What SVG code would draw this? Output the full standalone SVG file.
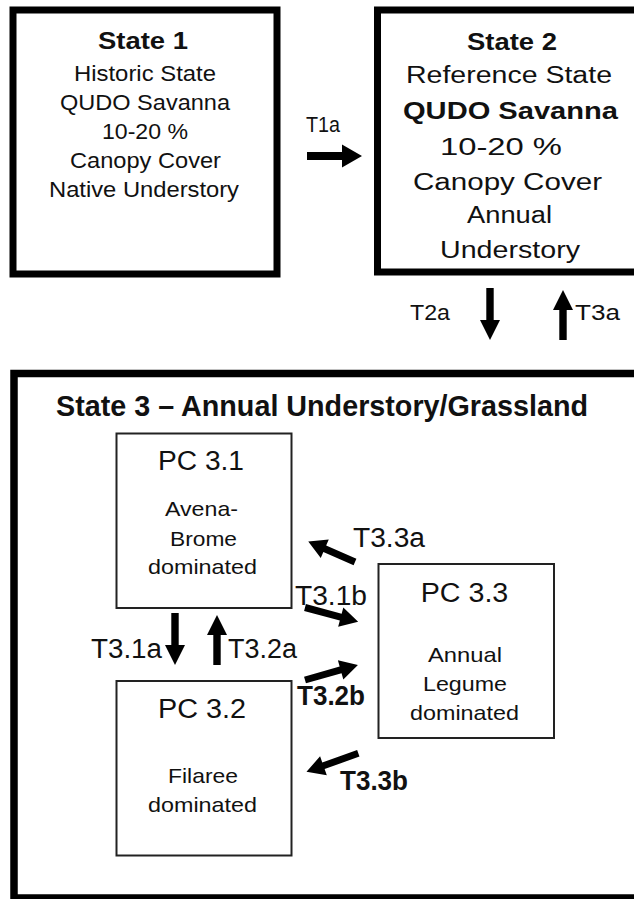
<svg xmlns="http://www.w3.org/2000/svg" width="634" height="899" viewBox="0 0 634 899">
<style>
  text { font-family: "Liberation Sans", Arial, sans-serif; fill: #111; }
  .b { font-weight: bold; }
  .s12 { font-size: 22px; }
  .s2 { font-size: 23px; }
  .pc { font-size: 27px; }
  .sm { font-size: 21px; }
  .lb { font-size: 27px; }
  .big { fill: #fff; stroke: #000; stroke-width: 7; }
  .thin { fill: #fff; stroke: #222; stroke-width: 2; }
  .arr { fill: #000; }
</style>
<rect x="0" y="0" width="634" height="899" fill="#fff"/>

<g id="state1">
  <rect class="big" x="13" y="10" width="264" height="264"/>
  <text class="b s2" x="98" y="49" textLength="90" lengthAdjust="spacingAndGlyphs">State 1</text>
  <text class="s12" x="74" y="81" textLength="142" lengthAdjust="spacingAndGlyphs">Historic State</text>
  <text class="s12" x="60" y="110" textLength="170" lengthAdjust="spacingAndGlyphs">QUDO Savanna</text>
  <text class="s12" x="102" y="139" textLength="86" lengthAdjust="spacingAndGlyphs">10-20 %</text>
  <text class="s12" x="70" y="168" textLength="151" lengthAdjust="spacingAndGlyphs">Canopy Cover</text>
  <text class="s12" x="49" y="197" textLength="190" lengthAdjust="spacingAndGlyphs">Native Understory</text>
</g>

<g id="state2">
  <rect class="big" x="377.5" y="10" width="270" height="262"/>
  <text class="b s2" x="467" y="50" textLength="90" lengthAdjust="spacingAndGlyphs">State 2</text>
  <text class="s2" x="406" y="83" textLength="206" lengthAdjust="spacingAndGlyphs">Reference State</text>
  <text class="b" style="font-size:24.5px" x="403" y="119" textLength="215" lengthAdjust="spacingAndGlyphs">QUDO Savanna</text>
  <text class="s2" x="440" y="155" textLength="122" lengthAdjust="spacingAndGlyphs">10-20 %</text>
  <text class="s2" x="413" y="190" textLength="189" lengthAdjust="spacingAndGlyphs">Canopy Cover</text>
  <text class="s2" x="467" y="223" textLength="85" lengthAdjust="spacingAndGlyphs">Annual</text>
  <text class="s2" x="440" y="258" textLength="140" lengthAdjust="spacingAndGlyphs">Understory</text>
</g>

<g id="state3">
  <rect class="big" x="14" y="373.5" width="640" height="524.5" style="stroke-width:7.5"/>
  <text class="b" style="font-size:29px" x="56" y="416" textLength="532" lengthAdjust="spacingAndGlyphs">State 3 – Annual Understory/Grassland</text>
</g>

<g id="pc31">
  <rect class="thin" x="116.5" y="433.5" width="175" height="174.5"/>
  <text class="pc" x="158" y="470" textLength="86" lengthAdjust="spacingAndGlyphs">PC 3.1</text>
  <text class="sm" x="165" y="515.7" textLength="73" lengthAdjust="spacingAndGlyphs">Avena-</text>
  <text class="sm" x="170" y="545.7" textLength="67" lengthAdjust="spacingAndGlyphs">Brome</text>
  <text class="sm" x="148" y="574.3" textLength="109" lengthAdjust="spacingAndGlyphs">dominated</text>
</g>

<g id="pc32">
  <rect class="thin" x="116.5" y="681" width="175" height="174.5"/>
  <text class="pc" x="158" y="718.3" textLength="88" lengthAdjust="spacingAndGlyphs">PC 3.2</text>
  <text class="sm" x="168" y="783.3" textLength="70" lengthAdjust="spacingAndGlyphs">Filaree</text>
  <text class="sm" x="148" y="811.7" textLength="109" lengthAdjust="spacingAndGlyphs">dominated</text>
</g>

<g id="pc33">
  <rect class="thin" x="378.5" y="564" width="175.5" height="174"/>
  <text class="pc" x="420.7" y="601.7" textLength="87.6" lengthAdjust="spacingAndGlyphs">PC 3.3</text>
  <text class="sm" x="428" y="661.7" textLength="74" lengthAdjust="spacingAndGlyphs">Annual</text>
  <text class="sm" x="423" y="690.7" textLength="84" lengthAdjust="spacingAndGlyphs">Legume</text>
  <text class="sm" x="410" y="720" textLength="109" lengthAdjust="spacingAndGlyphs">dominated</text>
</g>

<g id="connectors">
  <!-- T1a -->
  <polygon class="arr" transform="translate(307,156)" points="0,-4 35,-4 35,-11.5 55,0 35,11.5 35,4 0,4"/>
  <!-- T2a down -->
  <polygon class="arr" transform="translate(490,288) rotate(90)" points="0,-3.7 32,-3.7 32,-10 52,0 32,10 32,3.7 0,3.7"/>
  <!-- T3a up -->
  <polygon class="arr" transform="translate(563,340) rotate(-90)" points="0,-3.7 30,-3.7 30,-10 50,0 30,10 30,3.7 0,3.7"/>
  <!-- T3.1a down -->
  <polygon class="arr" transform="translate(175,613) rotate(90)" points="0,-3.7 32,-3.7 32,-10 52,0 32,10 32,3.7 0,3.7"/>
  <!-- T3.2a up -->
  <polygon class="arr" transform="translate(217,665) rotate(-90)" points="0,-3.7 30,-3.7 30,-10 50,0 30,10 30,3.7 0,3.7"/>
  <!-- T3.3a -->
  <polygon class="arr" transform="translate(355,562) rotate(-156.4)" points="0,-3.5 33,-3.5 33,-10 51,0 33,10 33,3.5 0,3.5"/>
  <!-- T3.1b -->
  <polygon class="arr" transform="translate(305,607.5) rotate(15)" points="0,-3.5 37,-3.5 37,-10 55,0 37,10 37,3.5 0,3.5"/>
  <!-- T3.2b -->
  <polygon class="arr" transform="translate(305,680) rotate(-15.8)" points="0,-3.5 37,-3.5 37,-10 55,0 37,10 37,3.5 0,3.5"/>
  <!-- T3.3b -->
  <polygon class="arr" transform="translate(358.3,753.3) rotate(160.4)" points="0,-3.5 37,-3.5 37,-10 55,0 37,10 37,3.5 0,3.5"/>

  <text class="s12" x="306" y="132" textLength="34" lengthAdjust="spacingAndGlyphs">T1a</text>
  <text class="s12" x="410" y="320" textLength="40" lengthAdjust="spacingAndGlyphs">T2a</text>
  <text class="s12" x="575" y="320" textLength="45" lengthAdjust="spacingAndGlyphs">T3a</text>
  <text class="lb" x="353" y="546.7" textLength="72" lengthAdjust="spacingAndGlyphs">T3.3a</text>
  <text class="lb" x="295" y="605" textLength="72" lengthAdjust="spacingAndGlyphs">T3.1b</text>
  <text class="lb" x="91" y="658.3" textLength="71" lengthAdjust="spacingAndGlyphs">T3.1a</text>
  <text class="lb" x="228" y="658.3" textLength="69" lengthAdjust="spacingAndGlyphs">T3.2a</text>
  <text class="lb b" x="297" y="705" textLength="68" lengthAdjust="spacingAndGlyphs">T3.2b</text>
  <text class="lb b" x="340" y="790" textLength="68" lengthAdjust="spacingAndGlyphs">T3.3b</text>
</g>
</svg>
